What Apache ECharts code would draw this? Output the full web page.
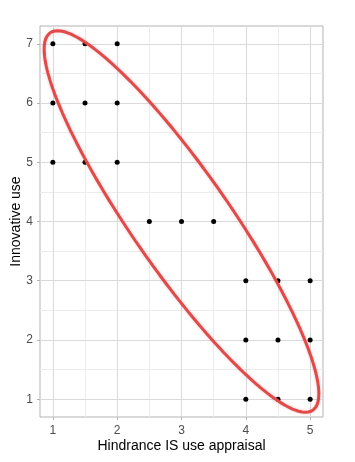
<!DOCTYPE html>
<html>
<head>
<meta charset="utf-8">
<script src="https://cdn.jsdelivr.net/npm/echarts@6/dist/echarts.min.js"></script>
<style>
html,body{margin:0;padding:0;background:#fff;}
#c{width:355px;height:462px;}
</style>
</head>
<body>
<div id="c"></div>
<script>
// Data
var xValues = [1, 1.5, 2, 1, 1.5, 2, 1, 1.5, 2, 2.5, 3, 3.5, 4, 4.5, 5, 4, 4.5, 5, 4, 4.5, 5];
var yValues = [7, 7, 7, 6, 6, 6, 5, 5, 5, 4, 4, 4, 3, 3, 3, 2, 2, 2, 1, 1, 1];
var xTicks = [1, 2, 3, 4, 5];
var yTicks = [1, 2, 3, 4, 5, 6, 7];
var xRange = [0.8, 5.2];
var yRange = [0.7, 7.3];
// ellipse (stat_ellipse): centre and shape matrix
var ellipseCenter = [3, 4];
var ellipseShape = [[4.56, -6.21], [-6.21, 10.37]];

var points = xValues.map(function (x, i) { return [x, yValues[i]]; });

function mids(t) { var r = []; for (var i = 0; i < t.length - 1; i++) r.push((t[i] + t[i + 1]) / 2); return r; }

// ellipse outline from centre + shape (Cholesky)
var L11 = Math.sqrt(ellipseShape[0][0]);
var L21 = ellipseShape[1][0] / L11;
var L22 = Math.sqrt(ellipseShape[1][1] - L21 * L21);
var ellipse = [];
for (var k = 0; k <= 240; k++) {
  var th = 2 * Math.PI * k / 240;
  ellipse.push([ellipseCenter[0] + L11 * Math.cos(th), ellipseCenter[1] + L21 * Math.cos(th) + L22 * Math.sin(th)]);
}

var gridLines = [];
mids(xTicks).forEach(function (v) { gridLines.push({ xAxis: v, lineStyle: { color: '#ececec', width: 1, type: 'solid' } }); });
mids(yTicks).forEach(function (v) { gridLines.push({ yAxis: v, lineStyle: { color: '#ececec', width: 1, type: 'solid' } }); });
xTicks.forEach(function (v) { gridLines.push({ xAxis: v, lineStyle: { color: '#dadada', width: 1, type: 'solid' } }); });
yTicks.forEach(function (v) { gridLines.push({ yAxis: v, lineStyle: { color: '#dadada', width: 1, type: 'solid' } }); });

var font = '"Liberation Sans", Arial, sans-serif';
var chart = echarts.init(document.getElementById('c'), null, { renderer: 'canvas' });
chart.setOption({
  animation: false,
  backgroundColor: '#ffffff',
  grid: { left: 40, right: 32, top: 26, bottom: 45, outerBoundsMode: 'none', containLabel: false, show: true, borderColor: '#b3b3b3', borderWidth: 1, backgroundColor: 'transparent' },
  xAxis: {
    type: 'value', min: xRange[0], max: xRange[1],
    name: 'Hindrance IS use appraisal', nameLocation: 'middle', nameGap: 22, nameMoveOverlap: false,
    nameTextStyle: { color: '#000', fontSize: 14, fontFamily: font },
    axisLine: { show: false },
    axisTick: { show: true, length: 3, lineStyle: { color: '#b3b3b3' }, customValues: xTicks },
    axisLabel: { customValues: xTicks, color: '#4d4d4d', fontSize: 12, fontFamily: font, margin: 8 },
    splitLine: { show: false }
  },
  yAxis: {
    type: 'value', min: yRange[0], max: yRange[1],
    name: 'Innovative use', nameLocation: 'middle', nameGap: 17, nameRotate: 90, nameMoveOverlap: false,
    nameTextStyle: { color: '#000', fontSize: 14, fontFamily: font },
    axisLine: { show: false },
    axisTick: { show: true, length: 3, lineStyle: { color: '#b3b3b3' }, customValues: yTicks },
    axisLabel: { customValues: yTicks, color: '#4d4d4d', fontSize: 12, fontFamily: font, margin: 7 },
    splitLine: { show: false }
  },
  series: [
    {
      type: 'line', data: [], z: 1, silent: true,
      markLine: { z: 1, silent: true, symbol: ['none', 'none'], label: { show: false }, animation: false,
        lineStyle: { type: 'solid' }, emphasis: { disabled: true }, data: gridLines }
    },
    {
      type: 'scatter', data: points, symbol: 'circle', symbolSize: 5, z: 6, silent: true,
      itemStyle: { color: '#000000', opacity: 1, borderWidth: 0 }
    },
    {
      type: 'line', data: ellipse, showSymbol: false, smooth: false, z: 7, silent: true,
      lineStyle: { color: '#e24a4a', width: 3, shadowBlur: 3, shadowColor: 'rgba(226,74,74,0.35)' }
    }
  ]
});
</script>
</body>
</html>
